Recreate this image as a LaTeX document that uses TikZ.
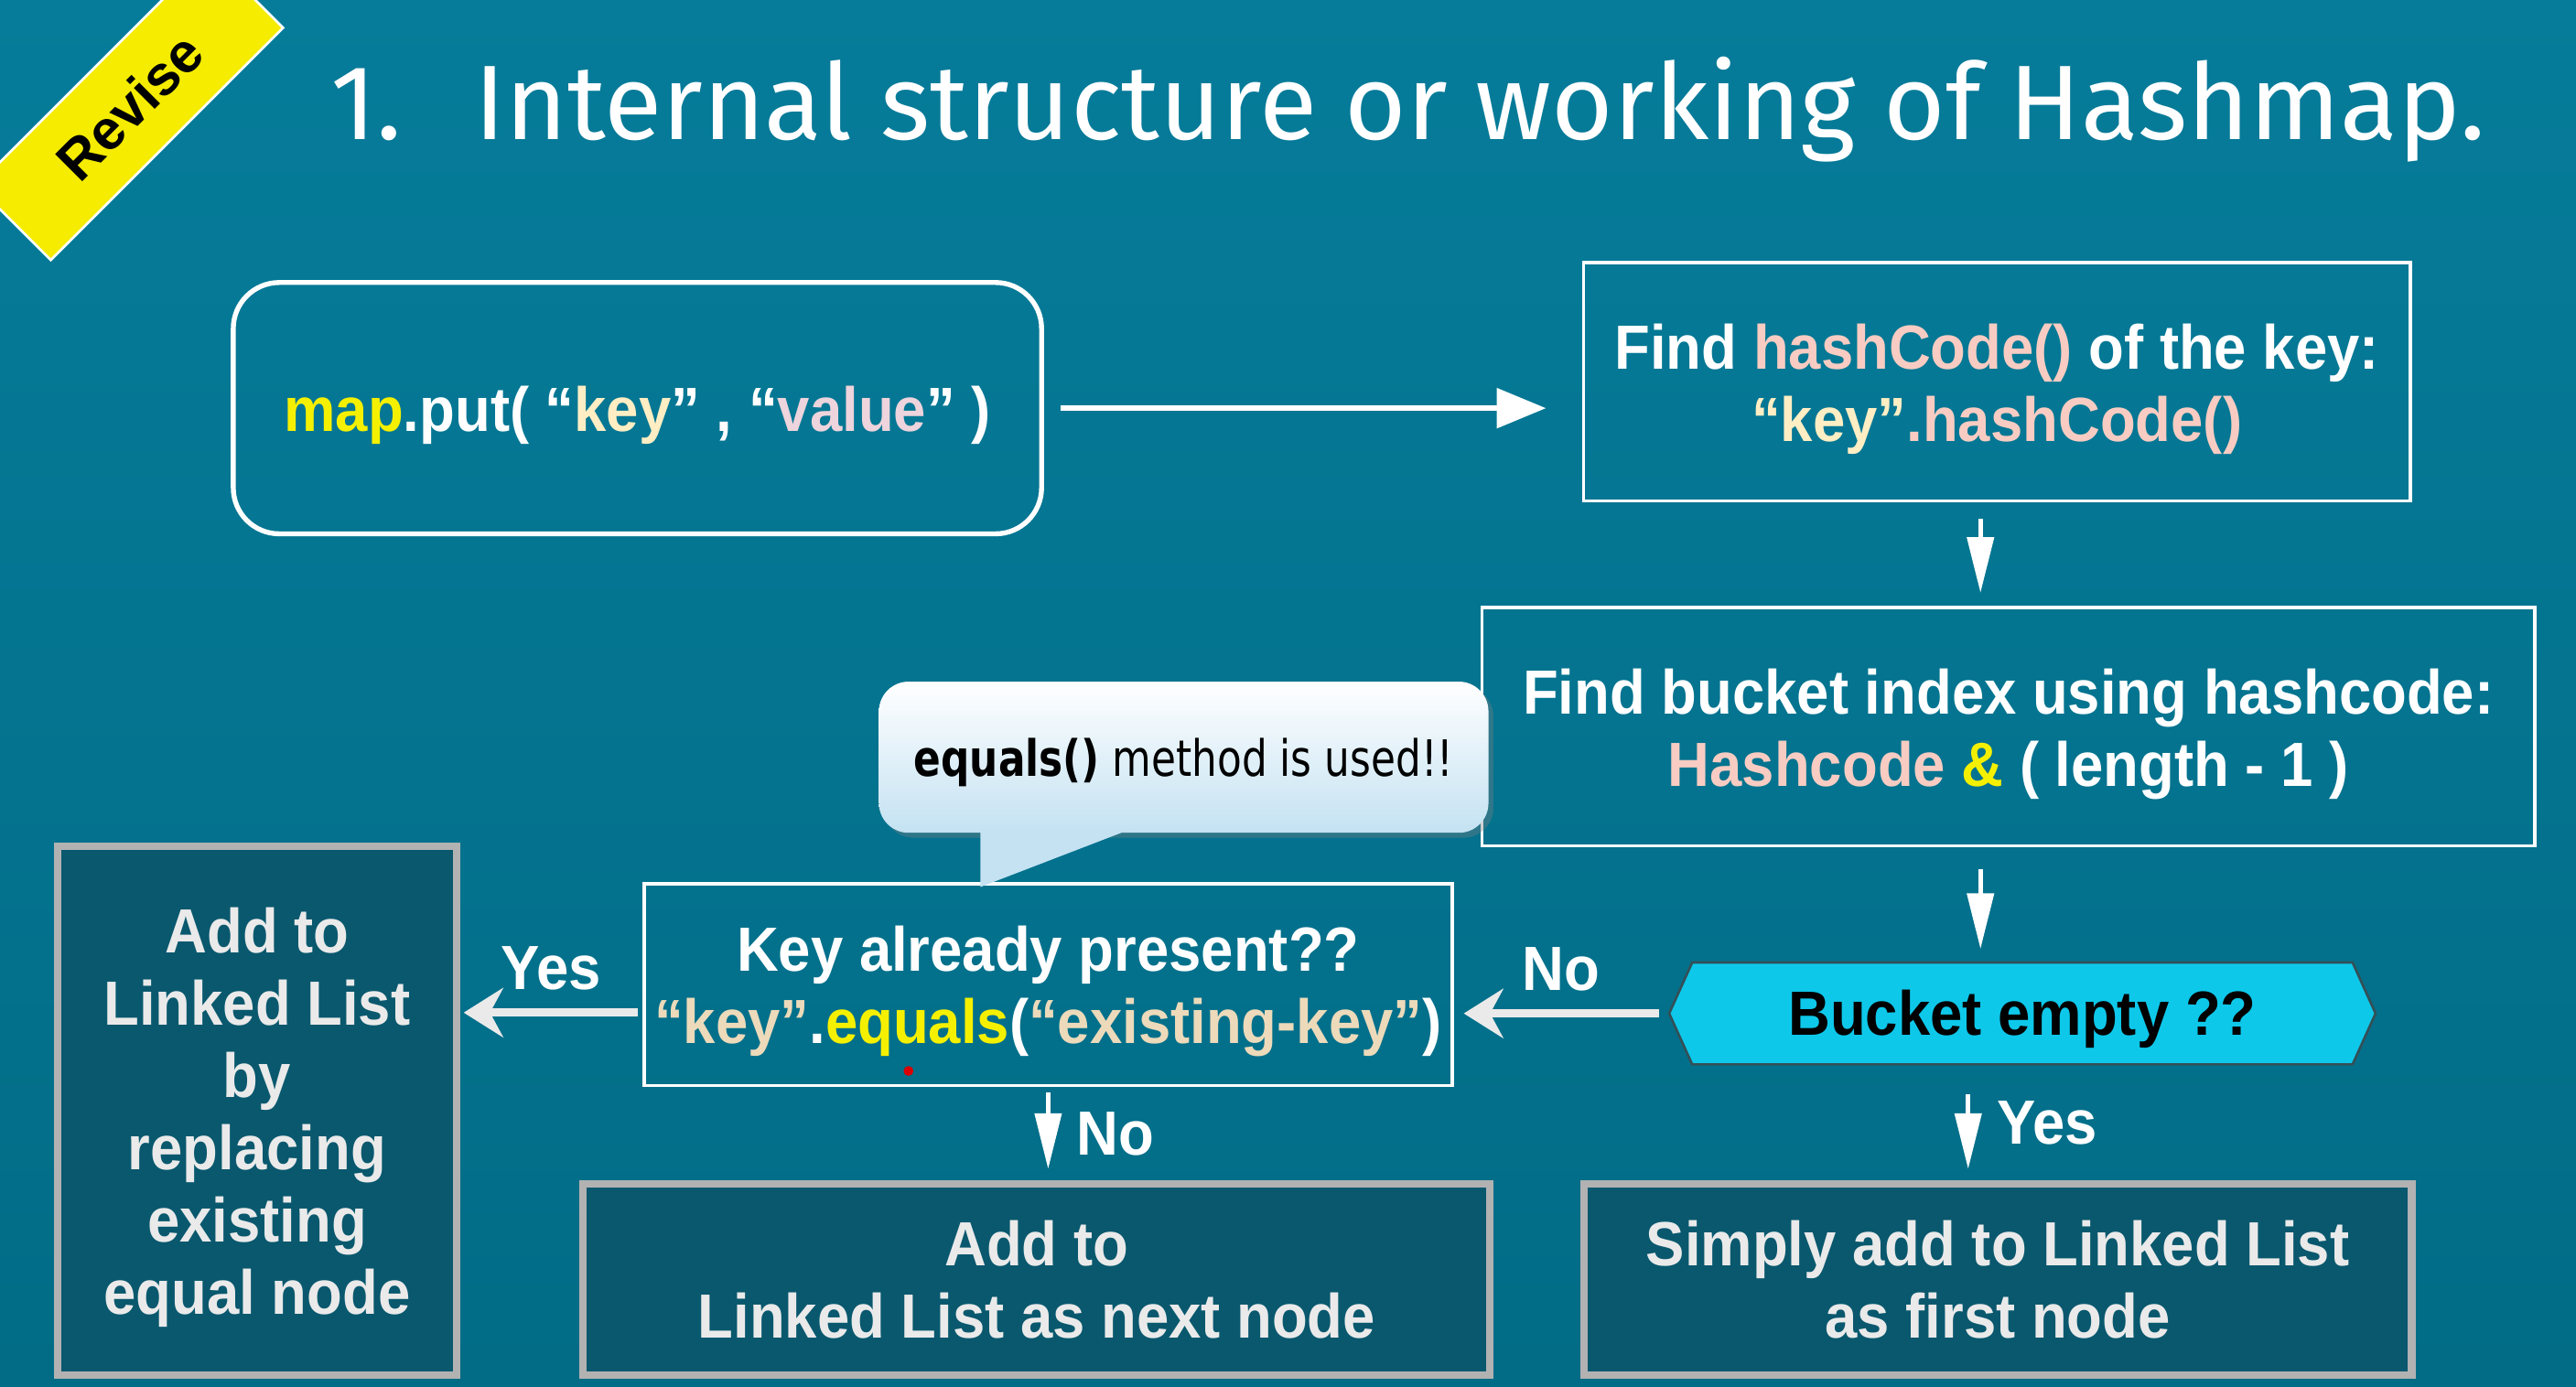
\documentclass[tikz,border=0pt]{standalone}
\usepackage{fontspec}
\setmainfont{Liberation Sans}[FakeStretch=0.93]
\newfontfamily\titlefont{Fira Sans}
\newfontfamily\bubblefont{DejaVu Sans}[FakeStretch=0.8]
\newfontfamily\revfont{Liberation Sans}
\usetikzlibrary{arrows.meta,shadows,calc}
\definecolor{bgtop}{RGB}{6,124,154}
\definecolor{bgmid}{RGB}{0,146,180}
\definecolor{bgbot}{RGB}{2,108,134}
\definecolor{ylw}{RGB}{245,240,0}
\definecolor{cream}{RGB}{255,238,196}
\definecolor{pinkv}{RGB}{238,212,220}
\definecolor{pinkh}{RGB}{248,204,194}
\definecolor{tanc}{RGB}{236,218,186}
\definecolor{cyanb}{RGB}{14,200,234}
\definecolor{hexborder}{RGB}{50,80,88}
\definecolor{darkbox}{RGB}{9,88,110}
\definecolor{boxgray}{RGB}{178,178,178}
\definecolor{offwhite}{RGB}{234,234,234}
\definecolor{bubblebot}{RGB}{196,226,242}
\definecolor{banner}{RGB}{245,236,0}
\newcommand\tstrut{\rule{0pt}{36pt}}
\begin{document}
\begin{tikzpicture}[x=1pt,y=-1pt,
  body/.style={font=\fontsize{38}{44}\selectfont\bfseries, align=center},
  wbox/.style={body, draw=white, line width=2pt, text=white, inner sep=0pt},
  dbox/.style={body, draw=boxgray, line width=4.5pt, fill=darkbox, text=offwhite, inner sep=0pt},
  lbl/.style={body, text=white, inner sep=2pt},
  mainarrow/.style={draw=white, line width=3pt, -{Triangle[length=30pt,width=24pt]}},
  sidearrow/.style={draw=offwhite, line width=5pt, -{Stealth[length=24pt,width=30pt,inset=8pt]}},
  downarrow/.style={draw=white, line width=3pt, -{Triangle[length=34pt,width=16pt]}},
]
\useasboundingbox (0,0) rectangle (1568,844);
\shade[top color=bgtop, middle color=bgmid, bottom color=bgbot] (0,0) rectangle (1568,844);

% banner
\begin{scope}
\clip (0,0) rectangle (1568,844);
\node[rotate=45, fill=banner, draw=white, line width=1.5pt, minimum width=200pt, minimum height=64pt,
      font=\revfont\fontsize{34}{38}\selectfont\bfseries, text=black] (banner) at (79,65) {Revise};
\end{scope}

% title
\node[anchor=base west, inner sep=0pt, text=white, font=\titlefont\fontsize{64.5}{70}\selectfont] (title) at (201,85)
  {1.\hspace{44pt}Internal structure or working of Hashmap.};

% boxes
\node[wbox, line width=3pt, rounded corners=28pt, minimum width=492pt, minimum height=153pt] (put) at (388,248.5)
  {\tstrut\textcolor{ylw}{map}.put( “\textcolor{cream}{key}” , “\textcolor{pinkv}{value}” )};
\node[wbox, minimum width=503pt, minimum height=145pt] (hash) at (1215.5,232.5)
  {\tstrut Find \textcolor{pinkh}{hashCode()} of the key:\\ \textcolor{cream}{“key”}\textcolor{pinkh}{.hashCode()}};
\node[wbox, minimum width=641pt, minimum height=145pt] (bidx) at (1222.5,442.5)
  {\tstrut Find bucket index using hashcode:\\ \textcolor{pinkh}{Hashcode} \textcolor{ylw}{\&} ( length - 1 )};
\node[wbox, minimum width=492pt, minimum height=123pt] (keyp) at (638,599.5)
  {\tstrut Key already present??\\ \textcolor{tanc}{“key”}.\textcolor{ylw}{equals}(\textcolor{tanc}{“existing-key”})};
\node[dbox, minimum width=243pt, minimum height=322pt] (replace) at (156.5,676)
  {\tstrut Add to\\Linked List\\by\\replacing\\existing\\equal node};
\node[dbox, minimum width=552pt, minimum height=116pt] (next) at (631,779)
  {Add to\\Linked List as next node};
\node[dbox, minimum width=504pt, minimum height=116pt] (first) at (1216,779)
  {Simply add to Linked List\\as first node};

% hexagon decision
\coordinate (bc) at (1231,617);
\filldraw[fill=cyanb, draw=hexborder, line width=1.5pt]
  ($(bc)+(-201,-31)$) -- ($(bc)+(201,-31)$) -- ($(bc)+(215,0)$) -- ($(bc)+(201,31)$)
  -- ($(bc)+(-201,31)$) -- ($(bc)+(-215,0)$) -- cycle;
\node[body, text=black, minimum width=430pt, minimum height=62pt, inner sep=0pt] (bucket) at (bc) {\rule{0pt}{34pt}Bucket empty ??};

% speech bubble
\node[font=\bubblefont\fontsize{30.5}{34}\selectfont, text=black, rounded corners=18pt,
      top color=white, bottom color=bubblebot, minimum width=371pt, minimum height=92pt,
      drop shadow={opacity=0.35, shadow xshift=3pt, shadow yshift=-3pt}] (bubble) at (720.5,461)
  {\rule{0pt}{30pt}\textbf{equals()} method is used!!};
\fill[bubblebot] ($(bubble.south west)+(62,-3)$) -- ($(bubble.south west)+(155,-3)$)
  -- ($(bubble.south west |- keyp.north)+(62,3)$) -- cycle;

% red dot
\fill[red!85!black] (553,652) circle (3);

% connectors
\draw[mainarrow, shorten <=10pt, shorten >=22pt] (put.east) -- (put.east -| hash.west);
\draw[downarrow, shorten <=10pt, shorten >=8pt] ([xshift=-10pt]hash.south) -- ([xshift=-10pt]hash.south |- bidx.north);
\draw[downarrow, shorten <=13pt, shorten >=8pt] ([xshift=-17pt]bidx.south) -- ([xshift=-17pt]bidx.south |- bucket.north);
\draw[sidearrow, shorten <=6pt, shorten >=6pt] (bucket.west) -- (bucket.west -| keyp.east)
  node[lbl, midway, above=9pt] (nolbl) {No};
\draw[sidearrow, shorten <=3pt, shorten >=2pt] ([yshift=-17pt]keyp.west) -- ([yshift=-17pt]keyp.west -| replace.east)
  node[lbl, midway, above=9pt] (yeslbl) {Yes};
\draw[downarrow, shorten <=3pt, shorten >=7pt] (keyp.south) -- (keyp.south |- next.north)
  node[lbl, midway, right=14pt] (no2lbl) {No};
\draw[downarrow, shorten <=18pt, shorten >=7pt] ([xshift=-33pt]bucket.south) -- ([xshift=-33pt]bucket.south |- first.north)
  node[lbl, midway, right=14pt] (yes2lbl) {Yes};
\end{tikzpicture}
\end{document}
